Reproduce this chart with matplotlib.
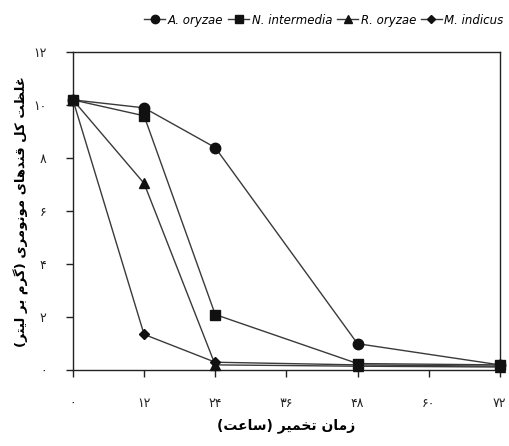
import matplotlib
matplotlib.use("Agg")
import matplotlib.pyplot as plt

# fermentation time (h) and total monomeric sugar concentration (g/L)
time_h = [0, 12, 24, 48, 72]
a_oryzae = [10.2, 9.9, 8.4, 1.0, 0.2]
n_intermedia = [10.2, 9.6, 2.1, 0.25, 0.2]
r_oryzae = [10.2, 7.05, 0.2, 0.15, 0.12]
m_indicus = [10.2, 1.35, 0.3, 0.2, 0.15]

x_ticks = [0, 12, 24, 36, 48, 60, 72]
y_ticks = [0, 2, 4, 6, 8, 10, 12]
x_label = "زمان تخمیر (ساعت)"
y_label = "غلظت کل قندهای مونومری (گرم بر لیتر)"

# isolated, final, initial, medial presentation forms
FORMS = {
    "ا": ("\uFE8D", "\uFE8E", None, None),
    "ب": ("\uFE8F", "\uFE90", "\uFE91", "\uFE92"),
    "ت": ("\uFE95", "\uFE96", "\uFE97", "\uFE98"),
    "خ": ("\uFEA5", "\uFEA6", "\uFEA7", "\uFEA8"),
    "د": ("\uFEA9", "\uFEAA", None, None),
    "ر": ("\uFEAD", "\uFEAE", None, None),
    "ز": ("\uFEAF", "\uFEB0", None, None),
    "س": ("\uFEB1", "\uFEB2", "\uFEB3", "\uFEB4"),
    "ظ": ("\uFEC5", "\uFEC6", "\uFEC7", "\uFEC8"),
    "ع": ("\uFEC9", "\uFECA", "\uFECB", "\uFECC"),
    "غ": ("\uFECD", "\uFECE", "\uFECF", "\uFED0"),
    "ق": ("\uFED5", "\uFED6", "\uFED7", "\uFED8"),
    "ل": ("\uFEDD", "\uFEDE", "\uFEDF", "\uFEE0"),
    "م": ("\uFEE1", "\uFEE2", "\uFEE3", "\uFEE4"),
    "ن": ("\uFEE5", "\uFEE6", "\uFEE7", "\uFEE8"),
    "ه": ("\uFEE9", "\uFEEA", "\uFEEB", "\uFEEC"),
    "و": ("\uFEED", "\uFEEE", None, None),
    "ک": ("\uFB8E", "\uFB8F", "\uFB90", "\uFB91"),
    "گ": ("\uFB92", "\uFB93", "\uFB94", "\uFB95"),
    "ی": ("\uFBFC", "\uFBFD", "\uFBFE", "\uFBFF"),
}
PERSIAN_DIGITS = "۰۱۲۳۴۵۶۷۸۹"


def rtl(text):
    """Join letters into contextual forms and lay them out right to left."""
    out = []
    for i, c in enumerate(text):
        if c not in FORMS:
            out.append(c)
            continue
        prev = text[i - 1] if i > 0 else None
        nxt = text[i + 1] if i + 1 < len(text) else None
        jp = prev in FORMS and FORMS[prev][2] is not None
        jn = nxt in FORMS and FORMS[c][2] is not None
        iso, fin, ini, med = FORMS[c]
        out.append(med if jp and jn else fin if jp else ini if jn else iso)
    s = "".join(reversed(out))
    return s.translate(str.maketrans("()", ")("))


def fa_num(v):
    return str(v).translate(str.maketrans("0123456789", PERSIAN_DIGITS))


plt.rcParams.update({"font.family": ["DejaVu Sans"], "font.size": 9})

fig = plt.figure(figsize=(5.1, 4.46), dpi=100)
ax = fig.add_axes([0.143, 0.170, 0.837, 0.713])

series = [
    (a_oryzae, "o", 7.5, "A. oryzae"),
    (n_intermedia, "s", 7.5, "N. intermedia"),
    (r_oryzae, "^", 7.5, "R. oryzae"),
    (m_indicus, "D", 5.5, "M. indicus"),
]
for vals, mk, ms, name in series:
    ax.plot(time_h, vals, color="#3a3a3a", lw=1.0, marker=mk, ms=ms,
            mfc="#111111", mec="#111111", label=name, clip_on=False, zorder=3)

ax.set_xlim(0, 72)
ax.set_ylim(0, 12)
ax.set_xticks(x_ticks)
ax.set_xticklabels([fa_num(v) for v in x_ticks])
ax.set_yticks(y_ticks)
ax.set_yticklabels([fa_num(v) for v in y_ticks])
ax.tick_params(direction="out", length=5, width=1, colors="#222222",
               labelsize=9, pad=14)
for sp in ax.spines.values():
    sp.set_linewidth(1.0)
    sp.set_color("#222222")

ax.set_xlabel(rtl(x_label), fontsize=10, fontweight="bold", labelpad=6)
ax.set_ylabel(rtl(y_label), fontsize=9.5, fontweight="bold", labelpad=3)

fig.legend(loc="center", bbox_to_anchor=(0.635, 0.955), ncol=4,
           frameon=False, handlelength=1.8, handletextpad=0.2,
           columnspacing=0.4, markerscale=0.8,
           prop={"style": "italic", "size": 8.5})

fig.savefig("out.png", dpi=100)
